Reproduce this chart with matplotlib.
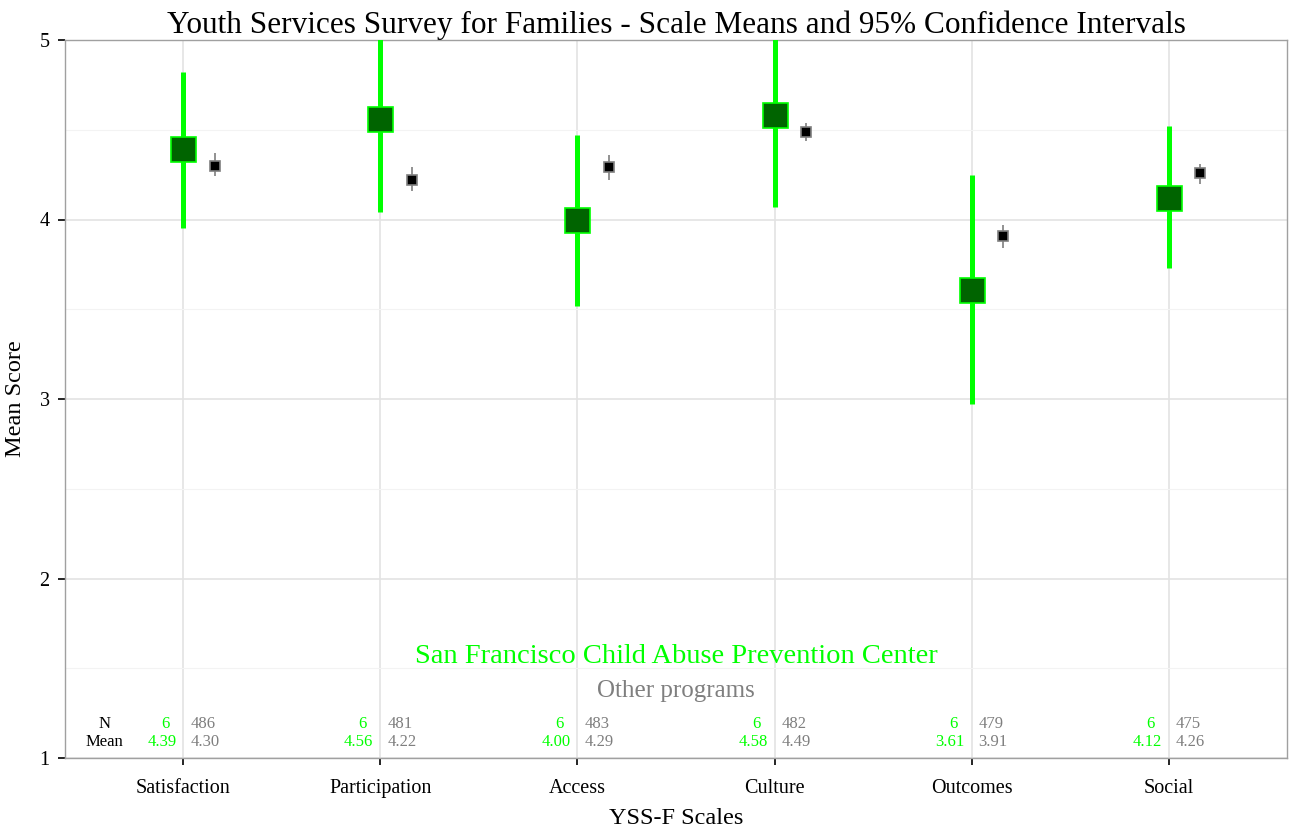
import numpy as np
import matplotlib.pyplot as plt
from matplotlib.ticker import MultipleLocator

# YSS-F scale summary
scales = ['Satisfaction', 'Participation', 'Access', 'Culture', 'Outcomes', 'Social']

group_mean = [4.39, 4.56, 4.00, 4.58, 3.61, 4.12]
group_lo = [3.95, 4.04, 3.52, 4.07, 2.97, 3.73]
group_hi = [4.82, 5.10, 4.47, 5.10, 4.25, 4.52]
group_n = [6, 6, 6, 6, 6, 6]

other_mean = [4.30, 4.22, 4.29, 4.49, 3.91, 4.26]
other_lo = [4.24, 4.16, 4.22, 4.44, 3.84, 4.20]
other_hi = [4.37, 4.29, 4.36, 4.54, 3.97, 4.31]
other_n = [486, 481, 483, 482, 479, 475]

GREEN = '#00ff00'
DARK = '#006400'
GREY = '#7f7f7f'

plt.rcParams['font.family'] = ['Liberation Serif', 'DejaVu Serif']

fig = plt.figure(figsize=(12.89, 8.31), dpi=100)
ax = fig.add_axes([65 / 1289, 1 - 758 / 831, 1222 / 1289, 718 / 831])

x = np.arange(1, len(scales) + 1)
off = 0.16

# group estimates
ax.vlines(x, group_lo, group_hi, color=GREEN, lw=3.6, zorder=3)
ax.plot(x, group_mean, 's', ms=18, mfc=DARK, mec=GREEN, mew=1.2, ls='none', zorder=4)

# other programs
ax.vlines(x + off, other_lo, other_hi, color=GREY, lw=1.2, zorder=3)
ax.plot(x + off, other_mean, 's', ms=7.5, mfc='black', mec=GREY, mew=1.2, ls='none', zorder=4)

# table of N / mean
fs = 12
ax.text(0.6, 1.19, 'N', ha='center', va='center', fontsize=fs, color='black')
ax.text(0.6, 1.09, 'Mean', ha='center', va='center', fontsize=fs, color='black')
for i in range(len(scales)):
    ax.text(x[i] - 0.07, 1.19, str(group_n[i]), ha='right', va='center', fontsize=fs, color=GREEN)
    ax.text(x[i] - 0.035, 1.09, f'{group_mean[i]:.2f}', ha='right', va='center', fontsize=fs, color=GREEN)
    ax.text(x[i] + 0.035, 1.19, str(other_n[i]), ha='left', va='center', fontsize=fs, color=GREY)
    ax.text(x[i] + 0.035, 1.09, f'{other_mean[i]:.2f}', ha='left', va='center', fontsize=fs, color=GREY)

ax.text(3.5, 1.565, 'San Francisco Child Abuse Prevention Center', ha='center', va='center',
        fontsize=20.5, color=GREEN)
ax.text(3.5, 1.375, 'Other programs', ha='center', va='center', fontsize=18, color=GREY)

ax.set_xlim(0.4, 6.6)
ax.set_ylim(1, 5)
ax.set_xticks(x)
ax.set_xticklabels(scales)
ax.yaxis.set_major_locator(MultipleLocator(1))
ax.yaxis.set_minor_locator(MultipleLocator(0.5))
ax.tick_params(axis='y', which='minor', length=0)
ax.tick_params(axis='both', which='major', length=5, width=1.2, color='black', labelsize=14.5)
ax.tick_params(axis='x', pad=10)
ax.tick_params(axis='y', pad=6)

ax.grid(True, which='major', color='#e3e3e3', lw=1.2, zorder=0)
ax.grid(True, which='minor', axis='y', color='#f3f3f3', lw=0.8, zorder=0)
ax.set_axisbelow(True)
for s in ax.spines.values():
    s.set_color('#a0a0a0')
    s.set_linewidth(1)

ax.set_xlabel('YSS-F Scales', fontsize=17.5, labelpad=7)
ax.set_ylabel('Mean Score', fontsize=17.5, labelpad=10)
ax.set_title('Youth Services Survey for Families - Scale Means and 95% Confidence Intervals',
             fontsize=22.5, pad=3)

fig.savefig('out.png', dpi=100)
